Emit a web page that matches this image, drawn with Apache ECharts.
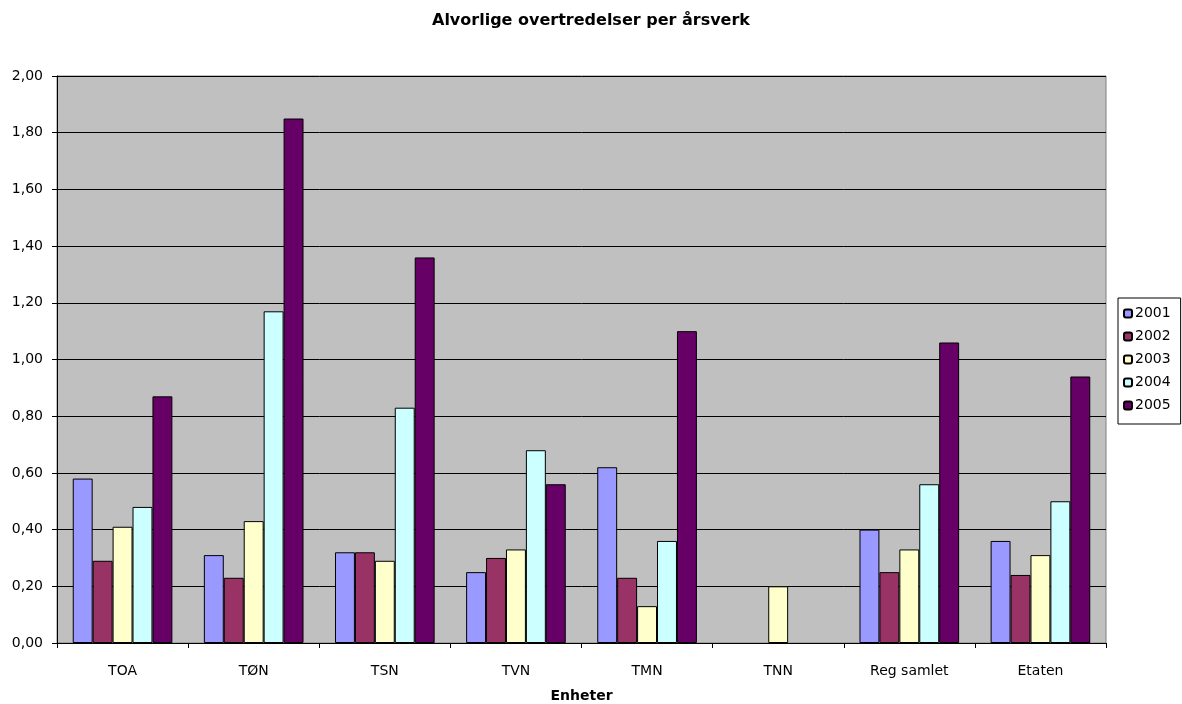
<!DOCTYPE html>
<html>
<head>
<meta charset="utf-8">
<script src="https://cdn.jsdelivr.net/npm/echarts@6/dist/echarts.min.js"></script>
<style>
  html, body { margin: 0; padding: 0; background: #ffffff; }
  #chart { width: 1182px; height: 704px; }
</style>
</head>
<body>
<div id="chart"></div>
<script>
// Units (categories) and yearly values of serious violations per man-year
const categories = ['TOA', 'TØN', 'TSN', 'TVN', 'TMN', 'TNN', 'Reg samlet', 'Etaten'];
const years = ['2001', '2002', '2003', '2004', '2005'];
const v2001 = [0.58, 0.31, 0.32, 0.25, 0.62, null, 0.40, 0.36];
const v2002 = [0.29, 0.23, 0.32, 0.30, 0.23, null, 0.25, 0.24];
const v2003 = [0.41, 0.43, 0.29, 0.33, 0.13, 0.20, 0.33, 0.31];
const v2004 = [0.48, 1.17, 0.83, 0.68, 0.36, null, 0.56, 0.50];
const v2005 = [0.87, 1.85, 1.36, 0.56, 1.10, null, 1.06, 0.94];
const colors = ['#9999FF', '#993366', '#FFFFCC', '#CCFFFF', '#660066'];

const seriesValues = [v2001, v2002, v2003, v2004, v2005];
const FONT = '"DejaVu Sans", Verdana, sans-serif';

const chart = echarts.init(document.getElementById('chart'), null, { renderer: 'canvas' });

chart.setOption({
  backgroundColor: '#ffffff',
  animation: false,
  title: {
    text: 'Alvorlige overtredelser per årsverk',
    left: 'center',
    top: 8,
    textStyle: { fontFamily: FONT, fontSize: 16, fontWeight: 'bold', color: '#000' }
  },
  legend: {
    orient: 'vertical',
    left: 1118,
    top: 298,
    padding: [7, 10, 10, 5],
    itemGap: 6,
    itemWidth: 8,
    itemHeight: 8,
    borderColor: '#000',
    borderWidth: 1,
    backgroundColor: '#fff',
    textStyle: { fontFamily: FONT, fontSize: 14, color: '#000', lineHeight: 17, padding: [0, 0, 0, -2] },
    data: years
  },
  grid: {
    left: 57,
    right: 76,
    top: 76,
    bottom: 61,
    outerBoundsMode: 'none',
    show: true,
    backgroundColor: '#C0C0C0',
    borderColor: '#808080',
    borderWidth: 1
  },
  xAxis: {
    type: 'category',
    data: categories,
    name: 'Enheter',
    nameLocation: 'middle',
    nameGap: 46,
    nameTextStyle: { fontFamily: FONT, fontSize: 14, fontWeight: 'bold', color: '#000' },
    axisLine: { lineStyle: { color: '#000', width: 1 } },
    axisTick: { show: true, inside: false, length: 5, alignWithLabel: false, lineStyle: { color: '#000' } },
    axisLabel: { fontFamily: FONT, fontSize: 14, color: '#000', margin: 21 },
    splitLine: { show: false }
  },
  yAxis: {
    type: 'value',
    min: 0,
    max: 2,
    interval: 0.2,
    axisLine: { show: true, lineStyle: { color: '#000', width: 1 } },
    axisTick: { show: true, length: 5, lineStyle: { color: '#000' } },
    axisLabel: {
      fontFamily: FONT, fontSize: 14, color: '#000', margin: 14,
      formatter: v => v.toFixed(2).replace('.', ',')
    },
    splitLine: { show: true, lineStyle: { color: '#000', width: 1 } }
  },
  series: years.map((y, i) => ({
    name: y,
    type: 'bar',
    data: seriesValues[i],
    barGap: '0%',
    barCategoryGap: '24%',
    itemStyle: { color: colors[i], borderColor: '#000', borderWidth: 1 }
  }))
});
</script>
</body>
</html>
